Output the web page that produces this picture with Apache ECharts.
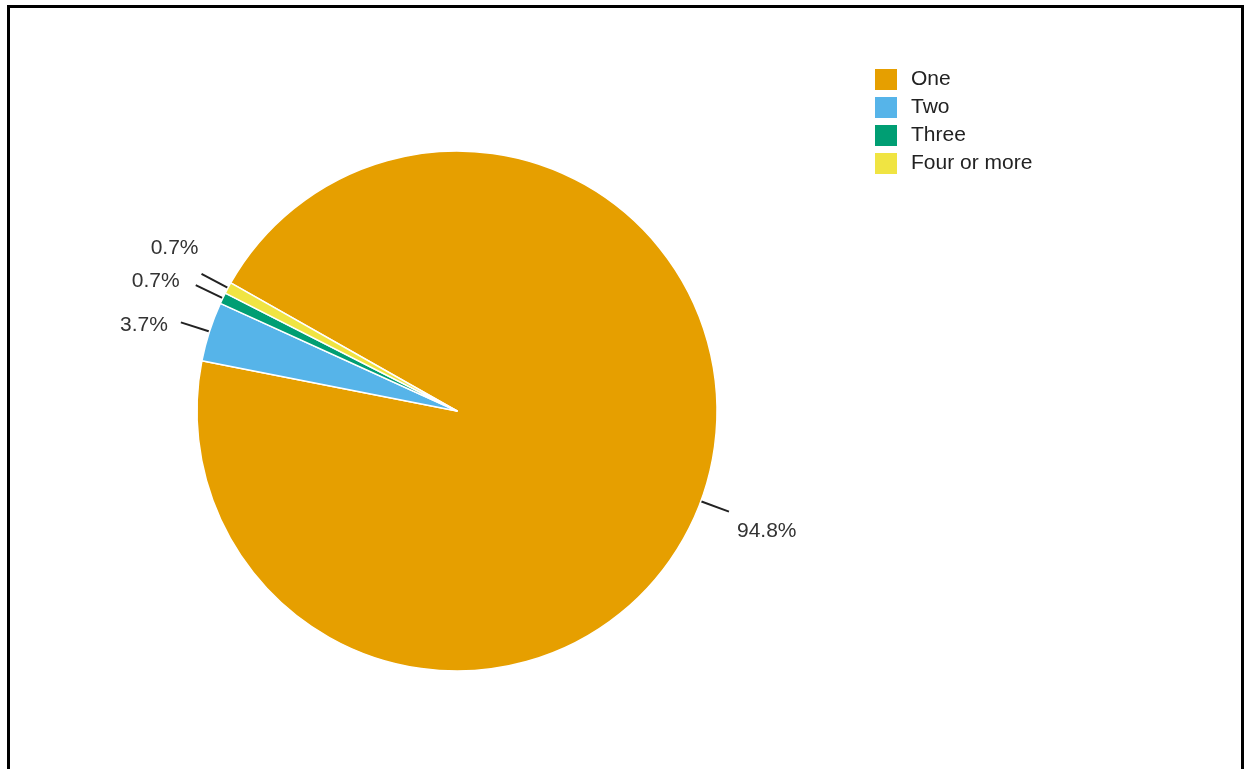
<!DOCTYPE html>
<html>
<head>
<meta charset="utf-8">
<script src="https://cdn.jsdelivr.net/npm/echarts@6/dist/echarts.min.js"></script>
<style>
html,body{margin:0;padding:0;background:#fff;}
#chart{width:1244px;height:769px;}
</style>
</head>
<body>
<div id="chart"></div>
<script>
const categories = ['One', 'Two', 'Three', 'Four or more'];
const values = [94.8, 3.7, 0.7, 0.7];
const colors = ['#E69F00', '#56B4E9', '#009E73', '#F0E442'];

const chart = echarts.init(document.getElementById('chart'), null, {renderer: 'canvas'});
const FONT = '"Liberation Sans", Arial, sans-serif';

// label text nudges relative to the end of each leader line (style only)
const labelNudge = [[0, 20], [-5, 3], [-8, -4], [5, -26]];

chart.setOption({
  animation: false,
  color: colors,
  graphic: [{
    type: 'rect',
    shape: {x: 8.5, y: 6.5, width: 1234, height: 800},
    style: {fill: 'none', stroke: '#000', lineWidth: 3},
    silent: true
  }],
  legend: {
    orient: 'vertical',
    left: 868,
    top: 62,
    itemWidth: 24,
    itemHeight: 23,
    itemGap: 3,
    icon: 'rect',
    data: categories,
    textStyle: {fontFamily: FONT, fontSize: 21, color: '#222', padding: [0, 0, 0, 8]}
  },
  series: [{
    type: 'pie',
    center: [457, 411],
    radius: [0, 260],
    startAngle: 150.5,
    clockwise: true,
    avoidLabelOverlap: false,
    data: categories.map((c, i) => ({name: c, value: values[i]})),
    itemStyle: {borderColor: '#fff', borderWidth: 1.5},
    label: {
      show: true,
      formatter: p => p.value.toFixed(1) + '%',
      fontFamily: FONT,
      fontSize: 21,
      color: '#333',
      distanceToLabelLine: 8
    },
    labelLine: {
      show: true,
      length: 30,
      length2: 0,
      lineStyle: {color: '#222', width: 2}
    },
    labelLayout: function (params) {
      const n = labelNudge[params.dataIndex];
      return {dx: n[0], dy: n[1]};
    },
    emphasis: {disabled: true}
  }]
});
</script>
</body>
</html>
